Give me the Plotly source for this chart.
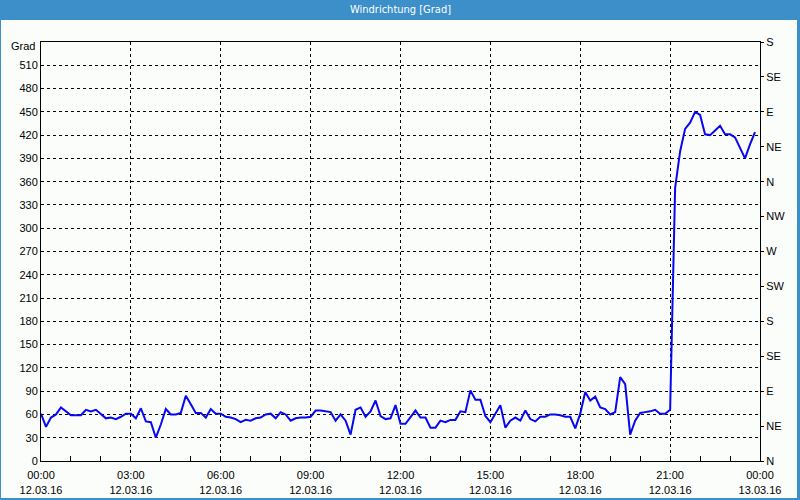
import pandas as pd
import plotly.graph_objects as go

# ---- data ----
start_time = "2016-03-12 00:00"
interval = "10min"
direction_deg = [
    61, 44, 56, 60, 69, 64, 59, 59, 59, 66, 64, 66, 61, 55, 56, 54, 57, 61, 61, 55,
    68, 51, 50, 30, 47, 67, 60, 60, 62, 84, 73, 62, 62, 56, 67, 61, 61, 57, 56, 54,
    50, 53, 52, 55, 56, 60, 61, 55, 63, 60, 52, 55, 56, 56, 57, 65, 65, 64, 63, 52,
    60, 52, 34, 66, 69, 57, 64, 78, 58, 54, 55, 72, 48, 48, 56, 65, 56, 56, 43, 43,
    52, 50, 53, 53, 64, 63, 91, 79, 79, 58, 50, 61, 72, 43, 52, 56, 52, 65, 54, 51,
    57, 57, 60, 60, 59, 57, 57, 42, 61, 89, 78, 83, 69, 67, 60, 63, 108, 99, 34, 52,
    62, 63, 64, 66, 61, 61, 66, 352, 399, 428, 436, 450, 446, 421, 420, 426, 432, 421,
    421, 417, 403, 390, 408, 424,
]
times = pd.date_range(start_time, periods=len(direction_deg), freq=interval)

left_tick_vals = list(range(0, 511, 30))
compass_vals = list(range(0, 541, 45))
compass_labels = ["N", "NE", "E", "SE", "S", "SW", "W", "NW", "N", "NE", "E", "SE", "S"]
x_tick_times = pd.date_range("2016-03-12 00:00", "2016-03-13 00:00", freq="3h")
x_tick_labels = [t.strftime("%H:%M") + "<br>" + t.strftime("%d.%m.%y") for t in x_tick_times]
title_text = "Windrichtung [Grad]"
unit_text = "Grad"

# ---- layout geometry (pixels) ----
W, H = 800, 500
L, R, T, B = 41, 760, 42, 461


def px(x):
    return (x - L) / (R - L)


def py(y):
    return (B - y) / (B - T)


FONT = "Liberation Sans, Arial, sans-serif"
BLUE = "#3c8fc8"

fig = go.Figure()
fig.add_trace(go.Scatter(
    x=times, y=direction_deg, mode="lines",
    line=dict(color="#0808f0", width=2), showlegend=False, hoverinfo="x+y",
))
fig.add_trace(go.Scatter(x=[times[0]], y=[None], yaxis="y2", showlegend=False,
                         hoverinfo="skip", mode="lines"))

shapes = [
    # title bar
    dict(type="rect", xref="paper", yref="paper", x0=px(0), x1=px(W), y0=py(20), y1=py(0),
         fillcolor=BLUE, line=dict(width=0), layer="above"),
    # frame left
    dict(type="rect", xref="paper", yref="paper", x0=px(0), x1=px(1), y0=py(H), y1=py(0),
         fillcolor=BLUE, line=dict(width=0)),
    # frame right
    dict(type="rect", xref="paper", yref="paper", x0=px(797), x1=px(W), y0=py(H), y1=py(0),
         fillcolor=BLUE, line=dict(width=0)),
    # frame bottom
    dict(type="rect", xref="paper", yref="paper", x0=px(0), x1=px(W), y0=py(H), y1=py(498),
         fillcolor=BLUE, line=dict(width=0)),
]

annotations = [
    dict(text=title_text, xref="paper", yref="paper", x=px(400), y=py(10),
         xanchor="center", yanchor="middle", showarrow=False,
         font=dict(family="Liberation Sans Narrow, DejaVu Sans Condensed, Liberation Sans", size=11,
                   color="white")),
    dict(text=unit_text, xref="paper", yref="paper", x=px(37), y=py(46),
         xanchor="right", yanchor="middle", showarrow=False,
         font=dict(family=FONT, size=11, color="black")),
]

fig.update_layout(
    width=W, height=H,
    margin=dict(l=L, r=W - R, t=T, b=H - B, pad=0, autoexpand=False),
    paper_bgcolor="#fbfdfb", plot_bgcolor="#fbfdfb",
    font=dict(family=FONT, size=11, color="black"),
    showlegend=False,
    shapes=shapes,
    annotations=annotations,
    xaxis=dict(
        type="date", range=[x_tick_times[0], x_tick_times[-1]],
        tickvals=list(x_tick_times), ticktext=x_tick_labels,
        showgrid=True, gridcolor="black", gridwidth=1, griddash="3px,3px",
        showline=True, linecolor="black", linewidth=1, mirror=True,
        ticks="inside", ticklen=5, tickcolor="black", ticklabelstandoff=4,
        minor=dict(dtick=3600000, ticks="inside", ticklen=5, tickcolor="black", showgrid=False),
        zeroline=False, fixedrange=True, automargin=False,
    ),
    yaxis=dict(
        range=[0, 540], tickvals=left_tick_vals, ticktext=[str(v) for v in left_tick_vals],
        showgrid=True, gridcolor="black", gridwidth=1, griddash="3px,3px",
        showline=True, linecolor="black", linewidth=1, mirror=True,
        ticks="", zeroline=False, fixedrange=True, automargin=False,
    ),
    yaxis2=dict(
        overlaying="y", side="right", range=[0, 540],
        tickvals=compass_vals, ticktext=compass_labels,
        ticks="outside", ticklen=3, tickcolor="black",
        showgrid=False, showline=True, linecolor="black", linewidth=1,
        zeroline=False, fixedrange=True, automargin=False,
    ),
)

fig.write_html(
    "out.html",
    config={"displayModeBar": False},
    post_script="document.body.style.margin='0px';document.body.style.padding='0px';"
                "document.body.style.overflow='hidden';",
)
